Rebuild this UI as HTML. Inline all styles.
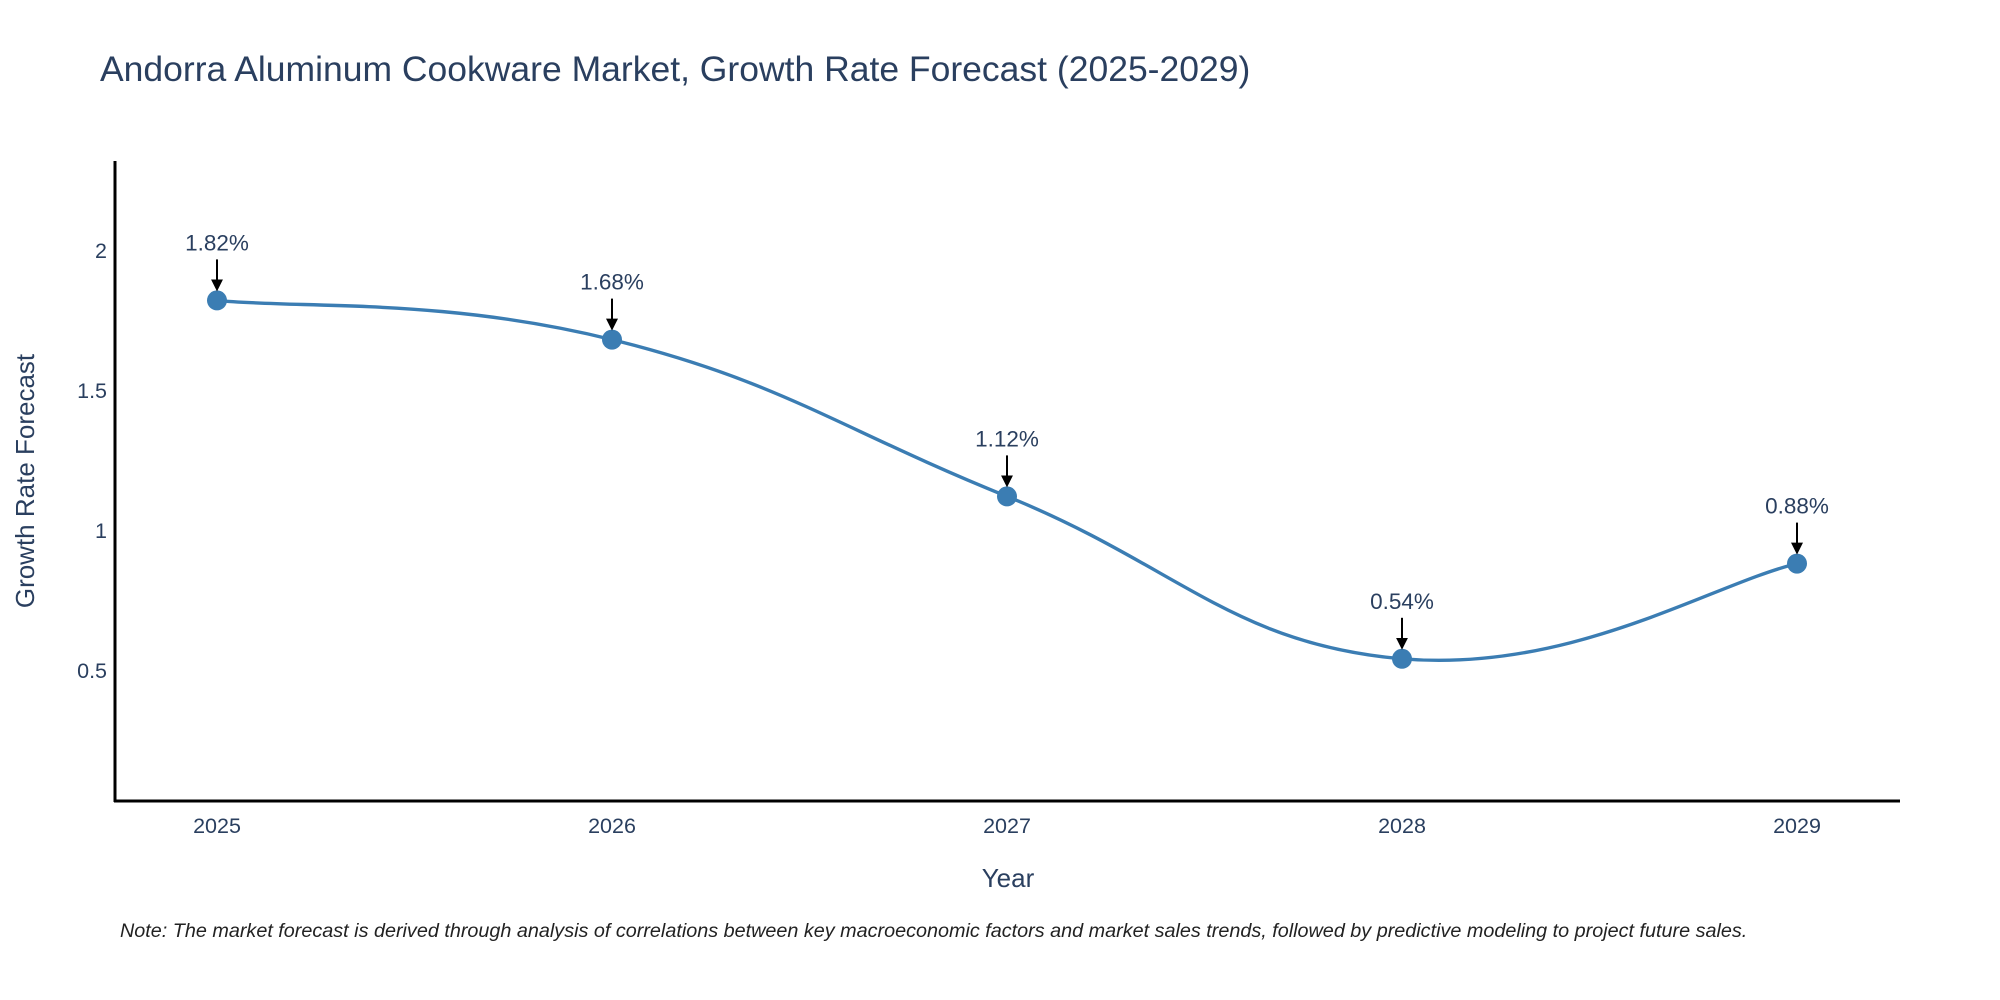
<!DOCTYPE html>
<html><head><meta charset="utf-8"><style>
body{margin:0;background:#fff;}
svg{display:block;font-family:"Liberation Sans",sans-serif;}
</style></head><body>
<svg width="2000" height="1000" viewBox="0 0 2000 1000">
<text x="100" y="81" font-size="35.5" fill="#2a3f5f">Andorra Aluminum Cookware Market, Growth Rate Forecast (2025-2029)</text>
<line x1="115" y1="161" x2="115" y2="802" stroke="#000" stroke-width="3"/>
<line x1="114" y1="801" x2="1900" y2="801" stroke="#000" stroke-width="3"/>
<g id="yticks"></g><g id="xticks"></g>
<path id="line" fill="none" stroke="#3b7db3" stroke-width="3.4"/>
<g id="marks"></g>
<text x="1008" y="887" font-size="26" fill="#2a3f5f" text-anchor="middle">Year</text>
<text transform="translate(34,481) rotate(-90)" font-size="26" fill="#2a3f5f" text-anchor="middle">Growth Rate Forecast</text>
<text x="120" y="937" font-size="19.8" font-style="italic" fill="#222">Note: The market forecast is derived through analysis of correlations between key macroeconomic factors and market sales trends, followed by predictive modeling to project future sales.</text>
<defs><marker id="ah" markerWidth="6" markerHeight="6" refX="5" refY="3" orient="auto" markerUnits="strokeWidth"><path d="M0,0 L6,3 L0,6 z" fill="#000"/></marker></defs>
</svg>
<script>
const years=["2025","2026","2027","2028","2029"];
const values=[1.82,1.68,1.12,0.54,0.88];
const labels=["1.82%","1.68%","1.12%","0.54%","0.88%"];
const yTicks=[0.5,1,1.5,2];
const yTickLabels=["0.5","1","1.5","2"];
const NS="http://www.w3.org/2000/svg";
function X(i){return 217+i*(1797-217)/(years.length-1);}
function Y(v){return 250+(2-v)*280;}
function mk(t,a,p){const e=document.createElementNS(NS,t);for(const k in a)e.setAttribute(k,a[k]);p.appendChild(e);return e;}
const yt=document.getElementById('yticks');
yTicks.forEach((v,i)=>{const t=mk('text',{x:107,y:Y(v)+8,'font-size':21.5,fill:'#2a3f5f','text-anchor':'end'},yt);


t.textContent=yTickLabels[i];});
const xt=document.getElementById('xticks');
years.forEach((y,i)=>{const t=mk('text',{x:X(i),y:833,'font-size':21.5,fill:'#2a3f5f','text-anchor':'middle'},xt);


t.textContent=y;});
const P=values.map((v,i)=>[X(i),Y(v)]);
let d='M'+P[0][0]+','+P[0][1];const s=0.43;
for(let i=0;i<P.length-1;i++){const p0=P[i-1]||P[i],p1=P[i],p2=P[i+1],p3=P[i+2]||p2;
const c1=[p1[0]+(p2[0]-p0[0])*s/2,p1[1]+(p2[1]-p0[1])*s/2],c2=[p2[0]-(p3[0]-p1[0])*s/2,p2[1]-(p3[1]-p1[1])*s/2];
d+=' C'+c1+' '+c2+' '+p2;}
document.getElementById('line').setAttribute('d',d);
const m=document.getElementById('marks');
P.forEach((p,i)=>{const c=mk('circle',{cx:p[0],cy:p[1],r:10,fill:'#3b7db3'},m);


const l=mk('line',{x1:p[0],y1:p[1]-41,x2:p[0],y2:p[1]-11,stroke:'#000','stroke-width':2,'marker-end':'url(#ah)'},m);


const t=mk('text',{x:p[0],y:p[1]-50,'font-size':22.5,fill:'#2a3f5f','text-anchor':'middle'},m);


t.textContent=labels[i];});
</script>
</body></html>
